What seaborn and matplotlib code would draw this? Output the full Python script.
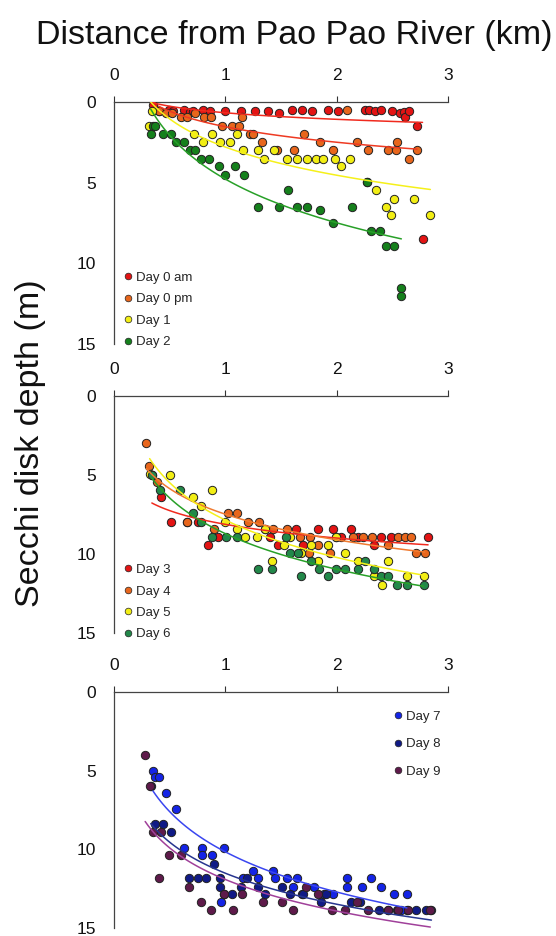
import matplotlib
matplotlib.use('Agg')
import matplotlib.pyplot as plt
import seaborn as sns
from matplotlib.lines import Line2D

sns.set_style('white')
plt.rcParams['font.family'] = ['Liberation Sans', 'DejaVu Sans']

# panel 1
day0am_x = [0.35, 0.40, 0.49, 0.53, 0.63, 0.68, 0.71, 0.80, 0.86, 1.00, 1.14, 1.27, 1.38, 1.48, 1.60,
            1.69, 1.78, 1.92, 2.01, 2.25, 2.29, 2.34, 2.40, 2.50, 2.57, 2.60, 2.61, 2.65, 2.72, 2.77]
day0am_y = [0.2, 0.56, 0.5, 0.56, 0.5, 0.63, 0.56, 0.5, 0.56, 0.56, 0.56, 0.56, 0.56, 0.69, 0.48,
            0.48, 0.56, 0.48, 0.56, 0.48, 0.48, 0.56, 0.48, 0.56, 0.69, 0.63, 0.94, 0.56, 1.46, 8.5]
day0pm_x = [0.40, 0.47, 0.52, 0.60, 0.66, 0.73, 0.81, 0.87, 0.97, 1.06, 1.12, 1.15, 1.22, 1.25, 1.33,
            1.46, 1.62, 1.71, 1.85, 1.97, 2.09, 2.18, 2.28, 2.46, 2.53, 2.54, 2.65, 2.72]
day0pm_y = [0.56, 0.69, 0.69, 0.94, 0.94, 0.69, 0.94, 0.94, 1.46, 1.46, 1.46, 0.94, 2.0, 2.0, 2.47,
            2.97, 2.97, 2.0, 2.47, 2.97, 0.48, 2.47, 2.97, 2.97, 2.97, 2.47, 3.51, 2.97]
day1_x = [0.34, 0.31, 0.72, 0.80, 0.88, 0.95, 1.04, 1.10, 1.16, 1.29, 1.35, 1.44, 1.55, 1.64, 1.73,
          1.81, 1.88, 1.98, 2.04, 2.12, 2.27, 2.35, 2.44, 2.51, 2.49, 2.69, 2.84]
day1_y = [0.56, 1.46, 2.0, 2.47, 2.0, 2.47, 2.47, 2.0, 2.97, 2.97, 3.51, 2.97, 3.51, 3.51, 3.51,
          3.51, 3.51, 3.51, 3.97, 3.51, 4.98, 5.48, 6.49, 6.0, 7.0, 6.0, 7.0]
day2_x = [0.33, 0.35, 0.37, 0.44, 0.51, 0.56, 0.63, 0.68, 0.73, 0.78, 0.85, 0.94, 1.00, 1.09, 1.17,
          1.29, 1.48, 1.56, 1.64, 1.73, 1.85, 1.97, 2.14, 2.27, 2.31, 2.39, 2.44, 2.51, 2.58, 2.58]
day2_y = [2.0, 1.46, 1.46, 2.0, 2.0, 2.47, 2.47, 2.97, 2.97, 3.51, 3.51, 3.97, 4.5, 3.97, 4.5,
          6.49, 6.49, 5.48, 6.49, 6.49, 6.69, 7.47, 6.49, 4.98, 7.99, 7.99, 8.95, 8.95, 11.5, 12.0]

# panel 2
day3_x = [0.34, 0.42, 0.51, 0.66, 0.75, 0.84, 0.93, 1.40, 1.47, 1.63, 1.70, 1.83, 1.97, 2.04, 2.13,
          2.19, 2.33, 2.40, 2.49, 2.82]
day3_y = [4.96, 6.4, 7.94, 7.94, 7.94, 9.41, 8.94, 8.94, 9.41, 8.41, 9.41, 8.41, 8.41, 8.94, 8.41,
          8.94, 9.41, 8.94, 8.94, 8.94]
day4_x = [0.29, 0.31, 0.39, 0.66, 1.02, 1.10, 0.90, 1.20, 1.30, 1.36, 1.43, 1.55, 1.67, 1.75, 1.76,
          1.83, 1.94, 1.99, 2.15, 2.24, 2.32, 2.46, 2.55, 2.61, 2.67, 2.71, 2.79]
day4_y = [2.97, 4.45, 5.44, 7.94, 7.42, 7.42, 8.41, 7.94, 7.94, 8.41, 8.41, 8.41, 8.94, 9.96, 8.94,
          9.41, 9.96, 8.94, 8.94, 8.94, 8.94, 9.41, 8.94, 8.94, 8.94, 9.96, 9.96]
day5_x = [0.32, 0.50, 0.71, 0.78, 0.88, 1.00, 1.10, 1.18, 1.28, 1.36, 1.42, 1.53, 1.58, 1.68, 1.77,
          1.83, 1.92, 1.99, 2.07, 2.19, 2.33, 2.41, 2.46, 2.63, 2.78]
day5_y = [4.9, 4.96, 6.4, 6.93, 5.93, 7.94, 8.41, 8.94, 8.94, 8.41, 10.42, 9.41, 8.94, 9.96, 9.41,
          10.42, 9.41, 8.94, 9.96, 10.42, 11.42, 11.97, 10.42, 11.42, 11.42]
day6_x = [0.34, 0.41, 0.59, 0.71, 0.78, 0.88, 1.01, 1.10, 1.29, 1.42, 1.54, 1.58, 1.65, 1.68, 1.77,
          1.84, 1.92, 1.99, 2.07, 2.19, 2.25, 2.33, 2.40, 2.46, 2.54, 2.63, 2.78]
day6_y = [4.96, 5.93, 5.93, 7.42, 7.94, 8.94, 8.94, 8.94, 10.95, 10.95, 8.94, 9.96, 9.96, 11.42, 10.42,
          10.95, 11.42, 10.95, 10.95, 10.95, 10.42, 10.95, 11.42, 11.42, 11.97, 11.97, 11.97]

# panel 3
day7_x = [0.35, 0.37, 0.40, 0.47, 0.56, 0.63, 0.79, 0.79, 0.88, 0.99, 0.96, 1.16, 1.25, 1.29, 1.43,
          1.45, 1.55, 1.61, 1.64, 1.69, 1.80, 1.89, 1.97, 2.09, 2.09, 2.23, 2.31, 2.40, 2.51, 2.63,
          2.63, 2.58]
day7_y = [5.01, 5.43, 5.43, 6.42, 7.43, 9.89, 9.89, 10.38, 10.38, 9.89, 13.37, 11.85, 11.37, 11.85, 11.37,
          11.85, 11.85, 12.38, 11.85, 12.84, 12.38, 12.84, 12.84, 11.85, 12.38, 12.38, 11.85, 12.38, 12.84, 12.84,
          13.89, 13.89]
day8_x = [0.33, 0.37, 0.44, 0.51, 0.67, 0.75, 0.83, 0.90, 0.95, 0.95, 0.99, 1.06, 1.14, 1.19, 1.29,
          1.36, 1.51, 1.58, 1.70, 1.86, 1.90, 2.13, 2.21, 2.38, 2.46, 2.54, 2.71, 2.80, 2.85]
day8_y = [5.96, 8.38, 8.38, 8.91, 11.85, 11.85, 11.85, 10.91, 11.85, 12.38, 12.84, 12.84, 12.38, 11.85, 12.38,
          12.84, 12.38, 12.84, 12.84, 13.37, 12.84, 13.37, 13.37, 13.89, 13.89, 13.89, 13.89, 13.89, 13.89]
day9_x = [0.28, 0.32, 0.35, 0.42, 0.40, 0.49, 0.60, 0.67, 0.78, 0.87, 0.99, 1.07, 1.15, 1.34, 1.51,
          1.61, 1.72, 1.83, 1.96, 2.07, 2.18, 2.28, 2.46, 2.55, 2.64, 2.84]
day9_y = [4.0, 5.96, 8.91, 8.91, 11.85, 10.38, 10.38, 12.38, 13.37, 13.89, 12.84, 13.89, 12.84, 13.37, 13.37,
          13.89, 12.38, 12.84, 13.89, 13.89, 13.37, 13.89, 13.89, 13.89, 13.89, 13.89]

x_ticks = [0, 1, 2, 3]
y_ticks = [0, 5, 10, 15]

panels = [
    [('Day 0 am', day0am_x, day0am_y, '#e31414', '#f02a1e'),
     ('Day 0 pm', day0pm_x, day0pm_y, '#e8661c', '#ee3a22'),
     ('Day 1', day1_x, day1_y, '#f2ee14', '#f5f01a'),
     ('Day 2', day2_x, day2_y, '#15801c', '#28a028')],
    [('Day 3', day3_x, day3_y, '#e31414', '#f02a1e'),
     ('Day 4', day4_x, day4_y, '#e8661c', '#f07a30'),
     ('Day 5', day5_x, day5_y, '#f2ee14', '#f5f01a'),
     ('Day 6', day6_x, day6_y, '#22884a', '#28a028')],
    [('Day 7', day7_x, day7_y, '#1424e6', '#3a46f0'),
     ('Day 8', day8_x, day8_y, '#101a86', '#27358f'),
     ('Day 9', day9_x, day9_y, '#5e1a4a', '#a0409a')],
]

fig = plt.figure(figsize=(5.56, 9.36), dpi=100)
boxes = [[0.205, 0.6325, 0.601, 0.2585],
         [0.205, 0.3237, 0.601, 0.253],
         [0.205, 0.0086, 0.601, 0.2521]]
legend_y = [-0.05, -0.065]

for i, (series, box) in enumerate(zip(panels, boxes)):
    ax = fig.add_axes(box)
    handles = []
    for label, xs, ys, col, lcol in series:
        sns.scatterplot(x=xs, y=ys, ax=ax, color=col, s=36, edgecolor='#222222',
                        linewidth=0.7, zorder=3)
        sns.regplot(x=xs, y=ys, ax=ax, logx=True, scatter=False, ci=None,
                    line_kws={'color': lcol, 'lw': 1.1, 'zorder': 4})
        handles.append(Line2D([], [], ls='', marker='o', ms=4.8, mfc=col,
                              mec='#222222', mew=0.5, label=label))
    ax.set_xlim(0, 3)
    ax.set_ylim(15, 0)
    ax.set_xticks(x_ticks)
    ax.set_yticks(y_ticks)
    ax.set_xlabel('')
    ax.set_ylabel('')
    ax.xaxis.tick_top()
    ax.tick_params(axis='x', direction='out', length=4, width=0.8, pad=10,
                   labelsize=12.5, colors='#333333', labelcolor='#111111')
    ax.tick_params(axis='y', direction='out', length=5, width=0.8, pad=8,
                   labelsize=12.5, colors='#333333', labelcolor='#111111')
    for side in ['right', 'bottom']:
        ax.spines[side].set_visible(False)
    for side in ['left', 'top']:
        ax.spines[side].set_color('#444444')
        ax.spines[side].set_linewidth(0.9)
    if i < 2:
        ax.legend(handles=handles, loc='lower left', bbox_to_anchor=(0.0, legend_y[i]),
                  frameon=False, fontsize=9.5, handletextpad=0.05, handlelength=1.0,
                  labelspacing=0.7, borderaxespad=0.2)
    else:
        ax.legend(handles=handles, loc='upper right', bbox_to_anchor=(1.0, 0.955),
                  frameon=False, fontsize=9.5, handletextpad=0.05, handlelength=1.0,
                  labelspacing=1.15, borderaxespad=0.2)

fig.text(0.529, 0.962, 'Distance from Pao Pao River (km)', ha='center', va='center',
         fontsize=24.5, color='#111111')
fig.text(0.054, 0.526, 'Secchi disk depth (m)', ha='center', va='center',
         rotation=90, fontsize=24.5, color='#111111')

fig.savefig('out.png', dpi=100)
